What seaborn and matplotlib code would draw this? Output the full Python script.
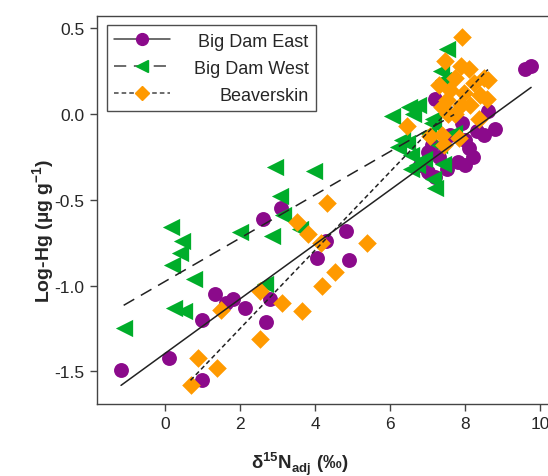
import numpy as np
import pandas as pd
import seaborn as sns
import matplotlib.pyplot as plt
from matplotlib.lines import Line2D

# Big Dam East
east_x = [-1.17, 0.11, 0.99, 0.98, 1.33, 1.63, 1.80, 2.12, 2.60, 2.80, 2.70, 3.09, 4.30, 4.83, 4.06, 4.90,
          7.0, 7.2, 7.5, 7.8, 8.0, 8.2, 8.1, 8.3, 8.6, 8.8, 8.5, 7.1, 7.2, 7.4, 7.9, 8.0, 7.6, 7.0, 9.6, 9.75, 6.8, 7.3]
east_y = [-1.49, -1.42, -1.55, -1.20, -1.05, -1.10, -1.08, -1.13, -0.61, -1.08, -1.21, -0.55, -0.74, -0.68, -0.84, -0.85,
          -0.34, -0.37, -0.32, -0.28, -0.30, -0.25, -0.20, -0.10, 0.02, -0.09, -0.12, -0.18, 0.09, 0.05, -0.05, -0.15,
          -0.12, -0.22, 0.26, 0.28, -0.30, -0.25]

# Big Dam West
west_x = [-1.1, 0.16, 0.45, 0.40, 0.18, 0.24, 0.50, 0.77, 2.0, 2.67, 2.84, 2.93, 3.07, 3.15, 3.6, 3.96,
          7.5, 7.35, 7.4, 6.05, 6.5, 6.75, 6.6, 7.15, 7.0, 6.2, 6.45, 6.55, 6.9, 6.55, 7.4, 7.15, 7.2, 7.7, 6.3, 7.1, 6.7, 7.3]
west_y = [-1.25, -0.66, -0.74, -0.81, -0.88, -1.13, -1.15, -0.96, -0.69, -0.99, -0.71, -0.31, -0.48, -0.59, -0.67, -0.33,
          0.38, 0.25, 0.20, -0.01, 0.04, 0.05, 0.0, -0.03, -0.11, -0.19, -0.17, -0.24, -0.26, -0.32, -0.29, -0.38, -0.43,
          -0.11, -0.15, -0.05, -0.30, -0.18]

# Beaverskin
beav_x = [0.68, 0.89, 1.38, 1.48, 2.52, 2.53, 3.11, 3.51, 3.66, 3.82, 4.16, 4.18, 4.31, 4.53, 5.38,
          7.9, 7.47, 7.87, 8.1, 7.73, 8.5, 8.6, 8.22, 7.3, 7.6, 7.95, 8.4, 7.5, 8.58, 7.87, 8.13, 7.38, 7.73, 7.55,
          8.36, 6.45, 7.05, 7.38, 7.42, 7.82]
beav_y = [-1.58, -1.42, -1.48, -1.14, -1.03, -1.31, -1.10, -0.63, -1.15, -0.70, -0.75, -1.00, -0.52, -0.92, -0.75,
          0.45, 0.31, 0.28, 0.26, 0.21, 0.21, 0.20, 0.18, 0.17, 0.14, 0.12, 0.11, 0.08, 0.09, 0.05, 0.05, 0.04, 0.0, 0.0,
          -0.03, -0.07, -0.13, -0.12, -0.18, -0.14]

sites = ["Big Dam East", "Big Dam West", "Beaverskin"]
colors = {"Big Dam East": "#8b0a8b", "Big Dam West": "#00ad2a", "Beaverskin": "#ff9a00"}
markers = {"Big Dam East": "o", "Big Dam West": "<", "Beaverskin": "D"}
sizes = {"Big Dam East": 115, "Big Dam West": 155, "Beaverskin": 90}
lstyles = {"Big Dam East": "-", "Big Dam West": (0, (8, 5)), "Beaverskin": (0, (3, 2))}

df = pd.concat([
    pd.DataFrame({"x": east_x, "y": east_y, "site": "Big Dam East"}),
    pd.DataFrame({"x": west_x, "y": west_y, "site": "Big Dam West"}),
    pd.DataFrame({"x": beav_x, "y": beav_y, "site": "Beaverskin"}),
])

sns.set_theme(style="white")
plt.rcParams["font.family"] = ["Liberation Sans", "DejaVu Sans"]
plt.rcParams["mathtext.fontset"] = "custom"
plt.rcParams["mathtext.bf"] = "Liberation Sans:bold"
plt.rcParams["mathtext.rm"] = "Liberation Sans"

fig = plt.figure(figsize=(5.48, 4.77), dpi=100)
ax = fig.add_axes([0.177, 0.151, 0.823, 0.813])

for s in sites:
    d = df[df["site"] == s]
    sns.scatterplot(data=d, x="x", y="y", ax=ax, color=colors[s], marker=markers[s],
                    s=sizes[s], linewidth=0, legend=False, zorder=2)
for s in sites:
    d = df[df["site"] == s]
    sns.regplot(data=d, x="x", y="y", ax=ax, scatter=False, ci=None, truncate=True,
                line_kws={"color": "#222222", "linewidth": 1.1, "linestyle": lstyles[s], "zorder": 3})

ax.set_xlim(-1.81, 10.2)
ax.set_ylim(-1.69, 0.57)
ax.set_xticks([0, 2, 4, 6, 8, 10])
ax.set_yticks([-1.5, -1.0, -0.5, 0.0, 0.5])
ax.set_yticklabels(["-1.5", "-1.0", "-0.5", "0.0", "0.5"])
ax.tick_params(axis="both", direction="out", length=5, width=1, color="#444444",
               labelsize=12.5, bottom=True, left=True, pad=4)
for sp in ["left", "bottom", "top"]:
    ax.spines[sp].set_color("#444444")
    ax.spines[sp].set_linewidth(1.0)
ax.spines["right"].set_visible(False)

ax.set_xlabel(r"$\mathbf{\delta}$$^{\mathbf{15}}$N$_{\mathbf{adj}}$ (‰)", fontsize=13.5, fontweight="bold")
ax.xaxis.set_label_coords(0.45, -0.118)
ax.set_ylabel(r"Log-Hg (µg g$^{\mathbf{-1}}$)", fontsize=14, fontweight="bold")
ax.yaxis.set_label_coords(-0.088, 0.45)

handles = [Line2D([0], [0], color="#444444", linewidth=1.1, linestyle=lstyles[s], marker=markers[s],
                  markersize=8.5 if s != "Beaverskin" else 7.5, markerfacecolor=colors[s],
                  markeredgecolor=colors[s]) for s in sites]
leg = ax.legend(handles, sites, loc="upper left", bbox_to_anchor=(0.022, 0.976), fontsize=13,
                handlelength=3.1, frameon=True, fancybox=False, edgecolor="#222222",
                borderpad=0.4, labelspacing=0.55, handletextpad=1.3, borderaxespad=0)
leg.get_frame().set_linewidth(1.0)

# right-align the legend labels
fig.canvas.draw()
renderer = fig.canvas.get_renderer()
texts = leg.get_texts()
widths = [t.get_window_extent(renderer).width for t in texts]
maxw = max(widths)
for t, w in zip(texts, widths):
    t.set_position((maxw - w, 0))

fig.savefig("out.png", dpi=100)
